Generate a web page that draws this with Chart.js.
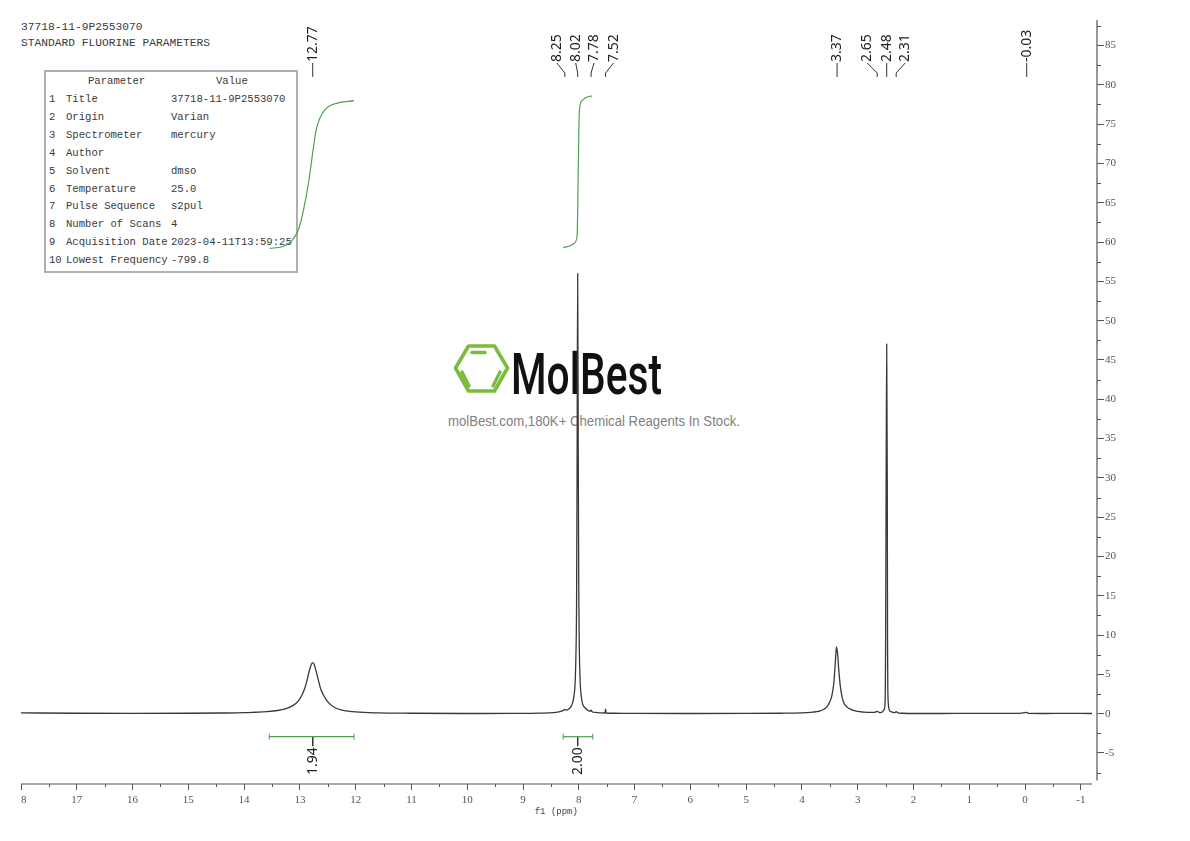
<!DOCTYPE html>
<html>
<head>
<meta charset="utf-8">
<title>37718-11-9P2553070</title>
<script src="https://cdn.jsdelivr.net/npm/chart.js@4"></script>
<style>
  html, body { margin: 0; padding: 0; background: #fff; }
  #page { position: relative; width: 1190px; height: 841px; overflow: hidden; }
  #chart { position: absolute; left: 0; top: 0; z-index: 2; }
  #logo { position: absolute; left: 0; top: 0; z-index: 1; }
  .mono { position: absolute; font-family: "Liberation Mono", monospace; color: #3a3a3a; white-space: pre; line-height: 14px; z-index: 1; }
  #paramBox { position: absolute; left: 44px; top: 70px; width: 250px; height: 199px; border: 2px solid #b0b0b0; z-index: 1; }
</style>
</head>
<body>
<div id="page">
  <svg id="logo" width="1190" height="841">
    <polygon points="455.5,368 468.5,346 494.5,346 507.5,368 494.5,391 468.5,391" fill="none" stroke="#7dbb3c" stroke-width="3.6" stroke-linejoin="round"></polygon>
    <g stroke="#7dbb3c" stroke-width="3.4" stroke-linecap="round">
      <line x1="472" y1="352.5" x2="485" y2="352.5"></line>
      <line x1="462" y1="372" x2="469" y2="386"></line>
      <line x1="500" y1="372" x2="493" y2="386"></line>
    </g>
    <text x="511" y="394" font-family="Roboto, sans-serif" font-size="58" font-weight="500" fill="#111" textLength="151" lengthAdjust="spacingAndGlyphs">MolBest</text>
    <text x="448" y="426" font-family="'Liberation Sans', sans-serif" font-size="14" fill="#808080" textLength="292" lengthAdjust="spacingAndGlyphs">molBest.com,180K+ Chemical Reagents In Stock.</text>
  </svg>
  <div id="paramBox"></div>
  <canvas id="chart" width="1190" height="841"></canvas>
</div>
<script>
// 1H NMR spectrum

const X_TICKS = [18,17,16,15,14,13,12,11,10,9,8,7,6,5,4,3,2,1,0,-1];
const X_MINOR = [17.5,16.5,15.5,14.5,13.5,12.5,11.5,10.5,9.5,8.5,7.5,6.5,5.5,4.5,3.5,2.5,1.5,0.5,-0.5];
const Y_TICKS = [85,80,75,70,65,60,55,50,45,40,35,30,25,20,15,10,5,0,-5];
const Y_MINOR = [87.5,82.5,77.5,72.5,67.5,62.5,57.5,52.5,47.5,42.5,37.5,32.5,27.5,22.5,17.5,12.5,7.5,2.5,-2.5,-7.5];

// ppm / intensity pairs along the trace
const SPEC_PPM = [
  18,17,16,15,14.4,14,13.8,13.6,13.4,13.25,13.12,13.02,12.96,12.91,12.87,12.83,12.8,12.77,12.74,12.71,12.67,12.63,12.58,12.52,12.45,12.36,12.22,12.0,11.6,11,10,9.2,8.7,8.45,
  8.32,8.27,8.25,8.22,8.18,8.14,8.11,8.09,8.07,8.06,8.05,8.04,8.03,8.02,8.01,8.0,7.99,7.98,7.97,7.95,7.93,7.89,7.84,7.8,7.78,7.76,7.7,7.6,7.53,7.52,7.51,7.4,7.0,6,5,4.4,
  4.0,3.8,3.7,3.62,3.55,3.5,3.46,3.43,3.41,3.39,3.38,3.36,3.34,3.31,3.28,3.25,3.2,3.14,3.08,3.0,2.9,2.8,2.7,2.65,2.6,2.56,2.53,2.51,2.505,2.5,2.49,2.48,2.47,2.465,2.46,2.45,2.44,2.42,2.38,2.34,2.31,2.28,2.2,2.0,1.5,1,0.5,0.1,-0.03,-0.06,-0.3,-0.8,-1.2
];
const SPEC_INT = [
  0.1,0.05,0.03,0.05,0.08,0.12,0.18,0.25,0.4,0.65,1.05,1.7,2.4,3.3,4.3,5.5,6.2,6.5,6.2,5.4,4.3,3.2,2.4,1.7,1.15,0.72,0.42,0.22,0.1,0.05,0.02,0.03,0.06,0.13,
  0.3,0.45,0.55,0.45,0.6,0.9,1.4,2.1,3.4,5,8,14,33,56,33,15,8,5,3.3,1.9,1.2,0.75,0.45,0.3,0.45,0.25,0.15,0.1,0.08,0.6,0.08,0.05,0.03,0.02,0.03,0.05,
  0.1,0.2,0.3,0.5,0.9,1.5,2.4,3.8,5.6,7.8,8.5,7.6,5.6,3.4,2.1,1.4,0.9,0.6,0.42,0.28,0.2,0.15,0.15,0.3,0.12,0.2,0.5,1.2,3,8,30,47,30,9,3.2,1.2,0.6,0.3,0.2,0.12,0.25,0.1,0.05,0.02,0.02,0.03,0.03,0.04,0.15,0.03,0.02,0.03,0.02
];

// integral curves
const INT1_PPM = [13.54,13.32,13.16,13.02,12.93,12.84,12.76,12.71,12.64,12.53,12.37,12.03];
const INT1_VAL = [59.2,59.4,60.05,61.7,64.25,67.8,71.9,74.2,75.8,77,77.6,78];
const INT2_PPM = [8.28,8.16,8.09,8.03,8.01,7.99,7.94,7.87,7.76];
const INT2_VAL = [59.3,59.5,59.8,60.8,69,76.7,78,78.4,78.6];

// integral ranges under the baseline
const RANGES = [
  { from: 13.55, to: 12.03, peak: 12.77, label: '1.94' },
  { from: 8.28, to: 7.75, peak: 8.02, label: '2.00' }
];
const RANGE_LEVEL = -2.93;

// picked peaks across the top
const PEAKS = ['12.77','8.25','8.02','7.78','7.52','3.37','2.65','2.48','2.31','-0.03'];

const HEAD_LINES = ['37718-11-9P2553070','STANDARD FLUORINE PARAMETERS'];
const PARAM_NAMES = ['Title','Origin','Spectrometer','Author','Solvent','Temperature','Pulse Sequence','Number of Scans','Acquisition Date','Lowest Frequency'];
const PARAM_VALUES = ['37718-11-9P2553070','Varian','mercury','','dmso','25.0','s2pul','4','2023-04-11T13:59:25','-799.8'];

const SERIF = '"Liberation Serif", serif';
const SANS = '"Noto Sans", sans-serif';
const TICK_COLOR = '#555';
const GREEN = '#4f9f4f';

// pixel shift of each top label away from its peak (labels are spread so they don't collide)
const LABEL_DX = [0,-8,-2,3,8,0,-10,0,9,0];

function addText(text, x, y, size) {
  const el = document.createElement('div');
  el.className = 'mono';
  el.textContent = text;
  el.style.left = x + 'px';
  el.style.top = (y - 7) + 'px';
  el.style.fontSize = size + 'px';
  document.getElementById('page').appendChild(el);
}

function buildTexts() {
  HEAD_LINES.forEach((line, i) => addText(line, 21, 27 + i * 16, 11.25));
  addText('Parameter', 88, 81, 10.6);
  addText('Value', 216, 81, 10.6);
  PARAM_NAMES.forEach((name, i) => {
    const y = 99 + i * 17.9;
    addText(String(i + 1), 49, y, 10.6);
    addText(name, 66, y, 10.6);
    addText(PARAM_VALUES[i], 171, y, 10.6);
  });
}

function rotatedLabel(ctx, text, x, y) {
  ctx.save();
  ctx.translate(x, y);
  ctx.rotate(-Math.PI / 2);
  ctx.textAlign = 'left';
  ctx.textBaseline = 'middle';
  ctx.fillText(text, 0, 0);
  ctx.restore();
}

// spines, minor ticks, peak leaders and rotated number labels
const nmrDecor = {
  id: 'nmrDecor',
  afterDraw(chart) {
    const { ctx, scales: { x, y } } = chart;
    const xAxisY = chart.chartArea.bottom;
    const yAxisX = chart.chartArea.right;

    ctx.save();
    ctx.strokeStyle = TICK_COLOR;
    ctx.lineWidth = 1.2;
    ctx.beginPath();
    ctx.moveTo(x.getPixelForValue(18), xAxisY);
    ctx.lineTo(x.getPixelForValue(-1.2), xAxisY);
    ctx.moveTo(yAxisX, y.getPixelForValue(88.25));
    ctx.lineTo(yAxisX, y.getPixelForValue(-8.5));
    ctx.stroke();

    ctx.lineWidth = 1;
    ctx.beginPath();
    X_MINOR.forEach(v => {
      const px = Math.round(x.getPixelForValue(v)) + 0.5;
      ctx.moveTo(px, xAxisY);
      ctx.lineTo(px, xAxisY + 3);
    });
    Y_MINOR.forEach(v => {
      const py = Math.round(y.getPixelForValue(v)) + 0.5;
      ctx.moveTo(yAxisX, py);
      ctx.lineTo(yAxisX + 4, py);
    });
    ctx.stroke();

    // leader lines and labels for the picked peaks
    ctx.strokeStyle = '#333';
    ctx.fillStyle = '#222';
    ctx.font = '14px ' + SANS;
    PEAKS.forEach((label, i) => {
      const px = x.getPixelForValue(parseFloat(label));
      const lx = px + LABEL_DX[i];
      ctx.beginPath();
      ctx.moveTo(lx, 63);
      ctx.lineTo(px, 73);
      ctx.lineTo(px, 77);
      ctx.stroke();
      rotatedLabel(ctx, label, lx, 62);
    });

    // integral values
    RANGES.forEach(r => {
      rotatedLabel(ctx, r.label, x.getPixelForValue(r.peak), 775);
    });
    ctx.restore();
  }
};

function initChart() {
  buildTexts();

  const traceData = SPEC_PPM.map((p, i) => ({ x: p, y: SPEC_INT[i] }));
  const datasets = [
    { data: traceData, borderColor: '#383838', borderWidth: 1.3, cubicInterpolationMode: 'monotone' },
    { data: INT1_PPM.map((p, i) => ({ x: p, y: INT1_VAL[i] })), borderColor: GREEN, borderWidth: 1.2, cubicInterpolationMode: 'monotone' },
    { data: INT2_PPM.map((p, i) => ({ x: p, y: INT2_VAL[i] })), borderColor: GREEN, borderWidth: 1.2, cubicInterpolationMode: 'monotone' }
  ];
  RANGES.forEach(r => {
    datasets.push({
      data: [{ x: r.from, y: RANGE_LEVEL }, { x: r.to, y: RANGE_LEVEL }],
      borderColor: GREEN,
      borderWidth: 1.2,
      pointRadius: 3,
      pointStyle: 'line',
      pointRotation: 90,
      pointBorderColor: GREEN,
      pointBorderWidth: 1
    });
    datasets.push({
      data: [{ x: r.peak, y: RANGE_LEVEL }, { x: r.peak, y: RANGE_LEVEL - 1.2 }],
      borderColor: '#333',
      borderWidth: 1
    });
  });

  new Chart(document.getElementById('chart').getContext('2d'), {
    type: 'scatter',
    data: { datasets: datasets.map(d => Object.assign({ showLine: true, pointRadius: 0, fill: false }, d)) },
    options: {
      responsive: false,
      animation: false,
      devicePixelRatio: 1,
      layout: { padding: { left: 21, top: 20, right: 0, bottom: 24 } },
      plugins: { legend: { display: false }, tooltip: { enabled: false }, title: { display: false } },
      scales: {
        x: {
          type: 'linear',
          reverse: true,
          min: -1.29,
          max: 18,
          afterFit(scale) { scale.height = 33; },
          afterBuildTicks(scale) { scale.ticks = X_TICKS.map(v => ({ value: v })); },
          border: { display: false },
          grid: { drawOnChartArea: false, drawTicks: true, tickLength: 6, tickColor: TICK_COLOR, tickWidth: 1 },
          ticks: {
            autoSkip: false,
            maxRotation: 0,
            padding: 4,
            color: TICK_COLOR,
            font: { family: SERIF, size: 11 },
            // the left-most "18" is cut by the frame in the original, only its 8 shows
            callback: v => v === 18 ? '  8' : String(v)
          },
          title: { display: true, text: 'f1 (ppm) ', color: '#444', padding: 0, font: { family: '"Liberation Mono", monospace', size: 9 } }
        },
        y: {
          type: 'linear',
          position: 'right',
          min: -8.95,
          max: 88.25,
          afterFit(scale) { scale.width = 93; },
          afterBuildTicks(scale) { scale.ticks = Y_TICKS.map(v => ({ value: v })); },
          border: { display: false },
          grid: { drawOnChartArea: false, drawTicks: true, tickLength: 7, tickColor: TICK_COLOR, tickWidth: 1 },
          ticks: {
            autoSkip: false,
            padding: 1,
            color: TICK_COLOR,
            font: { family: SERIF, size: 11 },
            callback: v => String(v)
          }
        }
      }
    },
    plugins: [nmrDecor]
  });
}

document.addEventListener('DOMContentLoaded', initChart);
</script>
</body>
</html>
